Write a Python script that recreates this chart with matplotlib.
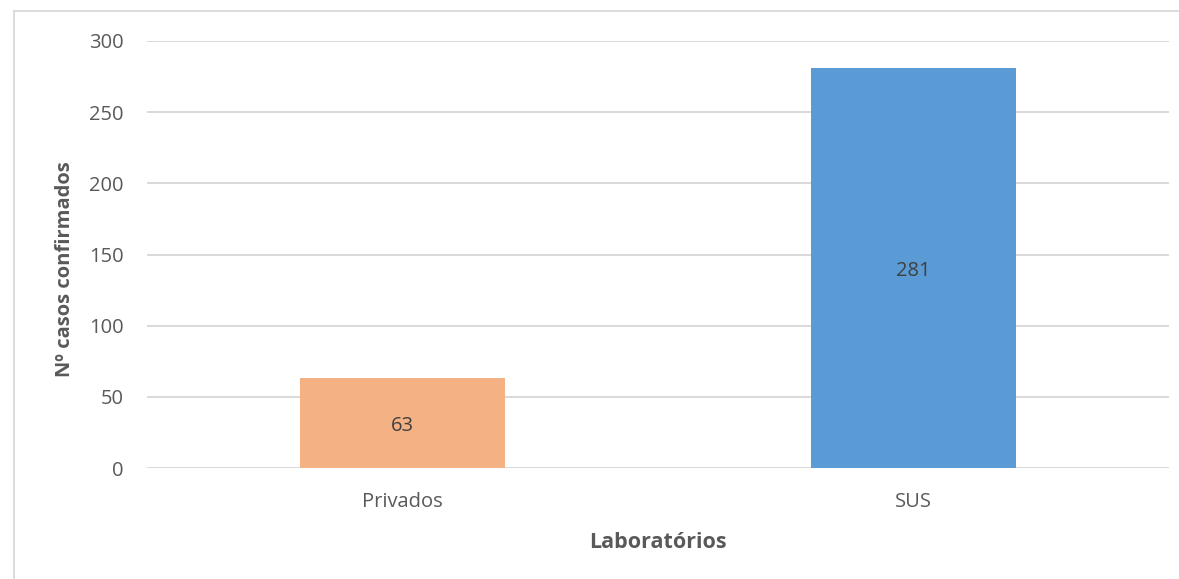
import matplotlib
matplotlib.use("Agg")
import matplotlib.pyplot as plt
from matplotlib.lines import Line2D

categories = ["Privados", "SUS"]
values = [63, 281]
colors = ["#F4B183", "#5B9BD5"]
yticks = [0, 50, 100, 150, 200, 250, 300]

plt.rcParams['font.family'] = ['Open Sans', 'DejaVu Sans']
txt = "#595959"

fig = plt.figure(figsize=(11.79, 5.79), dpi=100)
ax = fig.add_axes([147/1179, 1-468/579, (1169-147)/1179, (468-41)/579])

x = list(range(len(categories)))
bars = ax.bar(x, values, width=0.4, color=colors, zorder=3)
for xi, v in zip(x, values):
    ax.text(xi, v/2 - 2, str(v), ha='center', va='center', fontsize=14.5, color="#404040", zorder=4)

ax.set_xlim(-0.5, 1.5)
ax.set_ylim(0, 300)
ax.set_yticks(yticks)
ax.set_xticks(x)
ax.set_xticklabels(categories)
ax.grid(axis='y', color="#D9D9D9", linewidth=1.4, zorder=0)
for s in ax.spines.values():
    s.set_visible(False)
ax.tick_params(axis='both', length=0, labelsize=14.5, colors=txt)
ax.tick_params(axis='y', pad=17)
ax.tick_params(axis='x', pad=17)
ax.set_xlabel("Laboratórios", fontsize=15.5, fontweight='bold', color=txt, labelpad=15)
ax.set_ylabel("Nº casos confirmados", fontsize=14.5, fontweight='bold', color=txt, labelpad=10)
ax.yaxis.set_label_coords(-0.070, 0.466)

# outer chart border (top and left visible)
fig.add_artist(Line2D([14/1179, 14/1179], [0, 1-11/579], transform=fig.transFigure, color="#D9D9D9", linewidth=1.3))
fig.add_artist(Line2D([14/1179, 1], [1-11/579, 1-11/579], transform=fig.transFigure, color="#D9D9D9", linewidth=1.3))

fig.savefig("out.png", dpi=100)
